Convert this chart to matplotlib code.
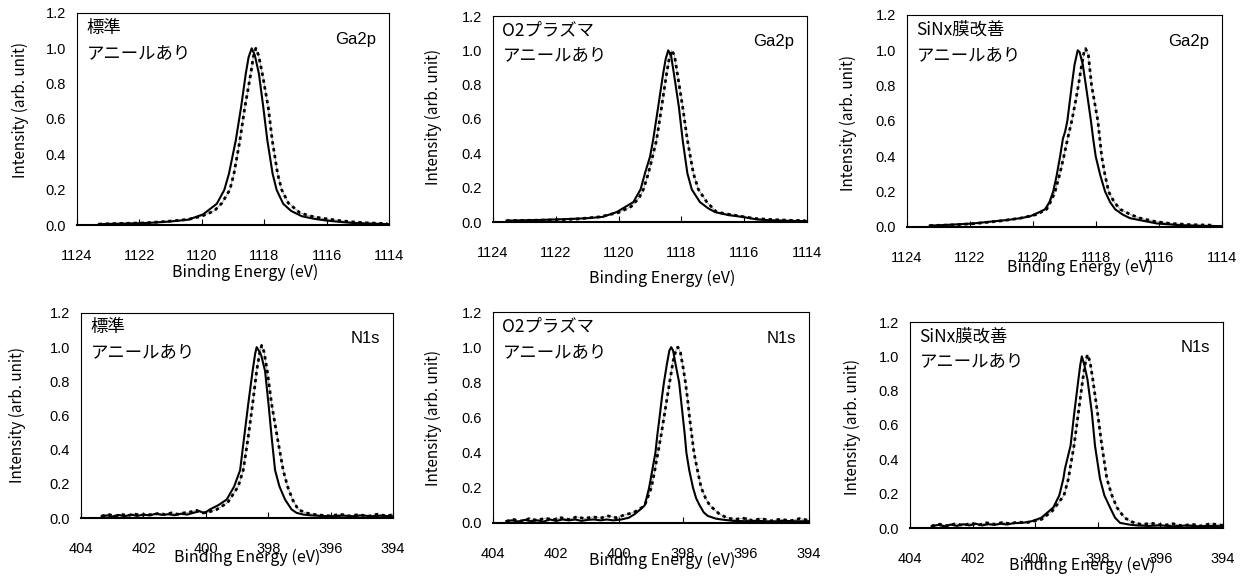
import matplotlib
matplotlib.use("Agg")
import matplotlib.pyplot as plt

plt.rcParams['font.family'] = ['Liberation Sans', 'Noto Sans CJK JP', 'DejaVu Sans']
JP = ['Noto Sans CJK JP', 'DejaVu Sans']

# 試料名と元素
samples = ['標準', 'O2プラズマ', 'SiNx膜改善']
anneal = 'アニールあり'
elements = ['Ga2p', 'N1s']
xlims = [(1124, 1114), (404, 394)]
xticks = [[1124, 1122, 1120, 1118, 1116, 1114], [404, 402, 400, 398, 396, 394]]
yticks = [0.0, 0.2, 0.4, 0.6, 0.8, 1.0, 1.2]

# ---- Ga2p 標準 ----
ga_std_solid_x = [1123.3, 1123.0, 1122.5, 1122.0, 1121.5, 1121.0, 1120.44, 1119.96, 1119.52, 1119.28, 1119.13,
                  1118.91, 1118.74, 1118.59, 1118.5, 1118.40, 1118.3, 1118.17, 1118.03, 1117.9, 1117.73,
                  1117.6, 1117.39, 1117.14, 1116.8, 1116.4, 1116.0, 1115.6, 1115.2, 1114.7, 1114.0]
ga_std_solid_y = [0.005, 0.006, 0.008, 0.010, 0.014, 0.020, 0.030, 0.060, 0.12, 0.198, 0.29,
                  0.48, 0.668, 0.857, 0.95, 1.0, 0.96, 0.857, 0.668, 0.48, 0.29,
                  0.198, 0.12, 0.08, 0.05, 0.035, 0.025, 0.018, 0.012, 0.008, 0.005]
ga_std_dot_x = [1123.3, 1122.8, 1122.3, 1121.8, 1121.3, 1120.8, 1120.4, 1120.0, 1119.6, 1119.35, 1119.1,
                1118.97, 1118.78, 1118.62, 1118.43, 1118.35, 1118.27, 1118.18, 1118.06, 1117.87, 1117.74,
                1117.57, 1117.44, 1117.23, 1116.85, 1116.5, 1116.2, 1116.0, 1115.6, 1115.2, 1114.8,
                1114.4, 1114.05]
ga_std_dot_y = [0.005, 0.008, 0.010, 0.012, 0.018, 0.025, 0.033, 0.05, 0.08, 0.125, 0.20,
                0.29, 0.477, 0.667, 0.856, 0.95, 1.0, 0.96, 0.856, 0.667, 0.477,
                0.29, 0.20, 0.125, 0.068, 0.05, 0.04, 0.035, 0.025, 0.018, 0.013,
                0.010, 0.008]

# ---- Ga2p O2プラズマ ----
ga_o2_solid_x = [1123.57, 1123.0, 1122.5, 1122.0, 1121.5, 1121.0, 1120.5, 1120.06, 1119.53, 1119.3, 1119.16,
                 1119.0, 1118.9, 1118.74, 1118.58, 1118.5, 1118.42, 1118.33, 1118.24, 1118.08, 1117.96,
                 1117.81, 1117.67, 1117.41, 1117.15, 1116.93, 1116.5, 1116.07, 1115.6, 1115.2, 1114.6, 1114.0]
ga_o2_solid_y = [0.008, 0.010, 0.012, 0.015, 0.018, 0.022, 0.030, 0.058, 0.116, 0.19, 0.284,
                 0.38, 0.478, 0.67, 0.866, 0.95, 1.0, 0.97, 0.866, 0.67, 0.478,
                 0.284, 0.19, 0.116, 0.08, 0.058, 0.04, 0.03, 0.015, 0.010, 0.007, 0.005]
ga_o2_dot_x = [1123.57, 1122.8, 1122.0, 1121.3, 1120.6, 1120.0, 1119.6, 1119.35, 1119.21, 1119.05, 1118.79,
               1118.63, 1118.47, 1118.38, 1118.31, 1118.22, 1118.13, 1117.96, 1117.81, 1117.62, 1117.46,
               1117.19, 1116.88, 1116.5, 1116.1, 1115.65, 1115.2, 1114.6, 1114.05]
ga_o2_dot_y = [0.008, 0.010, 0.012, 0.018, 0.030, 0.055, 0.09, 0.14, 0.19, 0.284, 0.478,
               0.67, 0.866, 0.96, 1.0, 0.97, 0.866, 0.67, 0.478, 0.284, 0.19,
               0.116, 0.058, 0.045, 0.033, 0.020, 0.015, 0.010, 0.008]

# ---- Ga2p SiNx膜改善 ----
ga_sin_solid_x = [1123.28, 1122.96, 1122.4, 1121.9, 1121.37, 1120.8, 1120.4, 1120.1, 1119.85, 1119.62, 1119.48,
                  1119.36, 1119.25, 1119.14, 1119.05, 1118.98, 1118.91, 1118.84, 1118.77, 1118.68, 1118.58,
                  1118.52, 1118.42, 1118.32, 1118.24, 1118.16, 1118.09, 1118.01, 1117.86, 1117.71, 1117.55,
                  1117.39, 1117.15, 1116.92, 1116.5, 1116.07, 1115.33, 1114.6, 1114.0]
ga_sin_solid_y = [0.008, 0.010, 0.015, 0.020, 0.030, 0.040, 0.050, 0.060, 0.080, 0.10, 0.14,
                  0.20, 0.29, 0.40, 0.50, 0.54, 0.60, 0.70, 0.80, 0.92, 1.00,
                  0.99, 0.92, 0.80, 0.70, 0.60, 0.50, 0.40, 0.29, 0.20, 0.14,
                  0.10, 0.07, 0.05, 0.035, 0.020, 0.010, 0.006, 0.005]
ga_sin_dot_x = [1123.28, 1122.5, 1121.8, 1121.0, 1120.4, 1119.9, 1119.57, 1119.42, 1119.3, 1119.15, 1119.02,
                1118.9, 1118.77, 1118.66, 1118.56, 1118.47, 1118.38, 1118.33, 1118.24, 1118.14, 1118.04,
                1117.94, 1117.82, 1117.72, 1117.6, 1117.42, 1117.23, 1116.9, 1116.6, 1116.1, 1115.64,
                1115.0, 1114.26]
ga_sin_dot_y = [0.008, 0.012, 0.020, 0.035, 0.050, 0.070, 0.10, 0.15, 0.20, 0.30, 0.40,
                0.50, 0.60, 0.70, 0.80, 0.90, 0.99, 1.01, 0.97, 0.80, 0.70,
                0.60, 0.40, 0.30, 0.20, 0.14, 0.10, 0.07, 0.05, 0.03, 0.02,
                0.013, 0.010]

# ---- N1s 標準 ----
n_std_solid_x = [403.34, 403.15, 403.0, 402.8, 402.6, 402.4, 402.2, 402.0, 401.8, 401.6, 401.4, 401.2,
                 401.0, 400.8, 400.6, 400.4, 400.2, 400.05, 399.87, 399.6, 399.33, 399.09, 398.9, 398.77,
                 398.64, 398.5, 398.42, 398.37, 398.3, 398.22, 398.1, 397.99, 397.89, 397.78, 397.64,
                 397.46, 397.25, 397.09, 396.87, 396.6, 396.3, 395.9, 395.6, 395.3, 395.0, 394.7, 394.4, 394.0]
n_std_solid_y = [0.010, 0.015, 0.008, 0.018, 0.010, 0.020, 0.012, 0.020, 0.015, 0.025, 0.018, 0.022,
                 0.016, 0.025, 0.020, 0.030, 0.040, 0.028, 0.050, 0.075, 0.108, 0.185, 0.28, 0.474,
                 0.667, 0.86, 0.96, 1.00, 0.98, 0.95, 0.86, 0.667, 0.474, 0.28, 0.185,
                 0.108, 0.05, 0.03, 0.020, 0.015, 0.012, 0.010, 0.014, 0.010, 0.015, 0.010, 0.013, 0.010]
n_std_dot_x = [403.34, 403.1, 402.9, 402.7, 402.5, 402.3, 402.1, 401.9, 401.7, 401.5, 401.3, 401.1,
               400.9, 400.7, 400.5, 400.3, 400.1, 399.9, 399.65, 399.3, 398.96, 398.8, 398.64, 398.5,
               398.37, 398.28, 398.21, 398.13, 398.03, 397.89, 397.71, 397.52, 397.38, 397.22, 397.04,
               396.8, 396.5, 396.22, 396.0, 395.7, 395.4, 395.1, 394.8, 394.5, 394.2, 394.0]
n_std_dot_y = [0.012, 0.020, 0.010, 0.022, 0.012, 0.025, 0.015, 0.022, 0.018, 0.028, 0.020, 0.030,
               0.022, 0.030, 0.035, 0.045, 0.030, 0.035, 0.050, 0.09, 0.185, 0.28, 0.474, 0.667,
               0.86, 0.96, 1.01, 0.97, 0.86, 0.667, 0.474, 0.28, 0.185, 0.108, 0.05,
               0.03, 0.02, 0.015, 0.012, 0.022, 0.012, 0.020, 0.010, 0.022, 0.012, 0.020]

# ---- N1s O2プラズマ ----
n_o2_solid_x = [403.58, 403.4, 403.2, 403.0, 402.8, 402.6, 402.4, 402.2, 402.0, 401.8, 401.6, 401.4,
                401.2, 401.0, 400.8, 400.6, 400.4, 400.2, 399.94, 399.7, 399.52, 399.35, 399.2, 399.06,
                398.96, 398.86, 398.8, 398.73, 398.65, 398.59, 398.5, 398.42, 398.36, 398.3, 398.22,
                398.11, 398.05, 397.99, 397.93, 397.88, 397.79, 397.67, 397.57, 397.46, 397.33, 397.2,
                396.95, 396.77, 396.4, 396.0, 395.6, 395.2, 394.8, 394.4, 394.0]
n_o2_solid_y = [0.010, 0.015, 0.008, 0.018, 0.010, 0.015, 0.008, 0.020, 0.012, 0.020, 0.015, 0.020,
                0.012, 0.018, 0.020, 0.015, 0.020, 0.015, 0.020, 0.030, 0.050, 0.075, 0.10, 0.20,
                0.30, 0.40, 0.50, 0.60, 0.72, 0.80, 0.90, 0.98, 1.00, 0.98, 0.90,
                0.80, 0.70, 0.60, 0.50, 0.40, 0.30, 0.20, 0.14, 0.10, 0.06, 0.04,
                0.025, 0.020, 0.012, 0.010, 0.012, 0.008, 0.012, 0.010, 0.010]
n_o2_dot_x = [403.58, 403.35, 403.1, 402.85, 402.6, 402.35, 402.1, 401.85, 401.6, 401.35, 401.1,
              400.85, 400.6, 400.35, 400.1, 399.85, 399.55, 399.35, 399.2, 398.99, 398.88, 398.78,
              398.68, 398.59, 398.5, 398.41, 398.3, 398.2, 398.15, 398.07, 397.98, 397.91, 397.84,
              397.78, 397.71, 397.64, 397.53, 397.41, 397.27, 397.14, 396.83, 396.6, 396.35, 396.1,
              395.8, 395.5, 395.2, 394.9, 394.6, 394.3, 394.0]
n_o2_dot_y = [0.010, 0.020, 0.010, 0.025, 0.015, 0.028, 0.018, 0.030, 0.020, 0.035, 0.025,
              0.035, 0.028, 0.040, 0.030, 0.045, 0.060, 0.080, 0.10, 0.20, 0.30, 0.40,
              0.50, 0.60, 0.70, 0.80, 0.92, 0.99, 1.00, 0.97, 0.88, 0.80, 0.70,
              0.60, 0.50, 0.40, 0.30, 0.20, 0.14, 0.10, 0.05, 0.03, 0.02, 0.028,
              0.015, 0.025, 0.012, 0.022, 0.012, 0.025, 0.015]

# ---- N1s SiNx膜改善 ----
n_sin_solid_x = [403.31, 403.1, 402.9, 402.7, 402.5, 402.3, 402.1, 401.9, 401.7, 401.5, 401.3, 401.1,
                 400.9, 400.7, 400.4, 400.1, 399.8, 399.42, 399.23, 399.1, 399.05, 398.87, 398.75, 398.62,
                 398.56, 398.51, 398.43, 398.33, 398.19, 398.09, 397.93, 397.79, 397.61, 397.45, 397.29,
                 397.0, 396.75, 396.4, 396.0, 395.6, 395.2, 394.8, 394.4, 394.0]
n_sin_solid_y = [0.010, 0.018, 0.010, 0.020, 0.012, 0.022, 0.015, 0.025, 0.015, 0.022, 0.018, 0.025,
                 0.020, 0.028, 0.030, 0.040, 0.060, 0.12, 0.19, 0.287, 0.345, 0.48, 0.672, 0.865,
                 0.95, 1.00, 0.95, 0.865, 0.672, 0.48, 0.287, 0.19, 0.12, 0.06, 0.03,
                 0.02, 0.015, 0.012, 0.015, 0.010, 0.014, 0.010, 0.012, 0.010]
n_sin_dot_x = [403.31, 403.05, 402.8, 402.55, 402.3, 402.05, 401.8, 401.55, 401.3, 401.05, 400.8,
               400.55, 400.3, 400.05, 399.8, 399.45, 399.08, 398.94, 398.76, 398.62, 398.48, 398.4,
               398.33, 398.25, 398.16, 398.01, 397.87, 397.71, 397.55, 397.39, 397.15, 396.9, 396.6,
               396.3, 395.9, 395.6, 395.3, 395.0, 394.7, 394.4, 394.0]
n_sin_dot_y = [0.012, 0.022, 0.012, 0.025, 0.015, 0.028, 0.018, 0.030, 0.022, 0.032, 0.025,
               0.035, 0.030, 0.040, 0.050, 0.10, 0.19, 0.287, 0.48, 0.672, 0.865, 0.96,
               1.01, 0.97, 0.865, 0.672, 0.48, 0.287, 0.19, 0.12, 0.06, 0.035, 0.02,
               0.028, 0.015, 0.025, 0.012, 0.022, 0.012, 0.025, 0.015]

panels = [
    [(ga_std_solid_x, ga_std_solid_y, ga_std_dot_x, ga_std_dot_y),
     (ga_o2_solid_x, ga_o2_solid_y, ga_o2_dot_x, ga_o2_dot_y),
     (ga_sin_solid_x, ga_sin_solid_y, ga_sin_dot_x, ga_sin_dot_y)],
    [(n_std_solid_x, n_std_solid_y, n_std_dot_x, n_std_dot_y),
     (n_o2_solid_x, n_o2_solid_y, n_o2_dot_x, n_o2_dot_y),
     (n_sin_solid_x, n_sin_solid_y, n_sin_dot_x, n_sin_dot_y)],
]

W, H = 1247, 578
fig = plt.figure(figsize=(W / 100, H / 100), dpi=100)

# 各グラフの枠 (left, top, right, bottom) ピクセル
boxes = [
    [(77, 13, 389, 225), (493, 16, 807, 222), (907, 15, 1222, 227)],
    [(81, 313, 393, 518), (493, 312, 809, 523), (910, 322, 1223, 528)],
]
# x軸ラベル中心, y軸ラベル中心
xlab_pos = [[(245, 272), (662, 278), (1080, 267)], [(247, 557), (662, 560), (1082, 565)]]
ylab_pos = [[(20, 110), (433, 117), (848, 123)], [(17, 415), (433, 418), (852, 427)]]

for r in range(2):
    for c in range(3):
        l, t, rr, b = boxes[r][c]
        ax = fig.add_axes([l / W, 1 - b / H, (rr - l) / W, (b - t) / H])
        sx, sy, dx, dy = panels[r][c]
        ax.plot(dx, dy, color='#888888', lw=0.5, zorder=2)
        ax.plot(dx, dy, color='black', lw=2.0, ls=(0, (1.2, 1.3)), zorder=3)
        ax.plot(sx, sy, color='black', lw=1.5, zorder=4)
        ax.set_xlim(*xlims[r])
        ax.set_ylim(0, 1.2)
        ax.set_xticks(xticks[r])
        ax.set_yticks(yticks)
        ax.set_yticklabels([f'{v:.1f}' for v in yticks])
        ax.tick_params(axis='x', direction='in', length=4, width=0.8, pad=17, labelsize=10.5)
        ax.tick_params(axis='y', length=0, pad=8, labelsize=10.5)
        for s in ax.spines.values():
            s.set_linewidth(0.8)
        ax.spines['bottom'].set_linewidth(1.5)
        ax.text(0.03, 0.93, samples[c], transform=ax.transAxes, ha='left', va='center',
                fontsize=12.5, family=JP)
        ax.text(0.03, 0.81, anneal, transform=ax.transAxes, ha='left', va='center',
                fontsize=12.5, family=JP)
        ax.text(0.96, 0.875, elements[r], transform=ax.transAxes, ha='right', va='center',
                fontsize=12)
        xl, yl = xlab_pos[r][c]
        fig.text(xl / W, 1 - yl / H, 'Binding Energy (eV)', ha='center', va='center',
                 fontsize=11.5, family=JP)
        xl, yl = ylab_pos[r][c]
        fig.text(xl / W, 1 - yl / H, 'Intensity (arb. unit)', ha='center', va='center',
                 rotation=90, fontsize=11, family=JP)

fig.savefig('out.png', dpi=100)
